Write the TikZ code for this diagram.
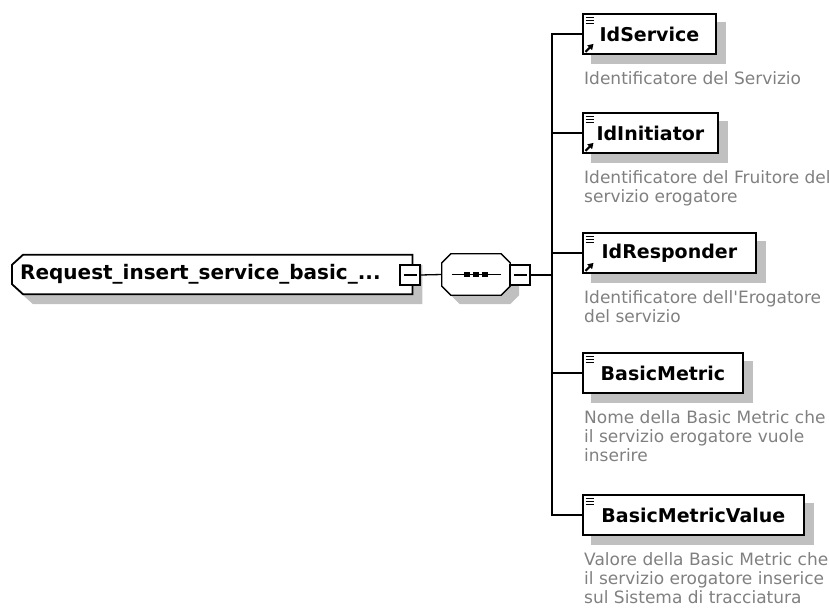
\documentclass[tikz,border=0pt]{standalone}
\usepackage{fontspec}
\setmainfont{DejaVu Sans}
\usetikzlibrary{arrows.meta,calc}
\pgfdeclarelayer{bg}
\pgfsetlayers{bg,main}
\definecolor{shad}{RGB}{192,192,192}
\definecolor{desc}{RGB}{128,128,128}
\newcommand\rootoutline[2]{($(root.north west)+(11+#1,#2)$) -- ($(root.north east)+(#1,#2)$) -- ($(root.south east)+(#1,#2)$) -- ($(root.south west)+(11+#1,#2)$) -- ($(root.south west)+(#1,-10+#2)$) -- ($(root.north west)+(#1,10+#2)$) -- cycle}
\newcommand\seqoutline[2]{($(seq.north west)+(9+#1,#2)$) -- ($(seq.north east)+(-9+#1,#2)$) -- ($(seq.north east)+(#1,9+#2)$) -- ($(seq.south east)+(#1,-9+#2)$) -- ($(seq.south east)+(-9+#1,#2)$) -- ($(seq.south west)+(9+#1,#2)$) -- ($(seq.south west)+(#1,-9+#2)$) -- ($(seq.north west)+(#1,9+#2)$) -- cycle}
\begin{document}
\begin{tikzpicture}[x=1pt,y=-1pt,
  elem/.style={draw=black, line width=1.8, fill=white, minimum height=40, inner sep=0, anchor=west, font=\fontsize{19}{19}\selectfont\bfseries},
  rootn/.style={inner xsep=8, inner ysep=0, minimum height=39, text width=384, align=left, anchor=west, font=\fontsize{20}{20}\selectfont\bfseries},
  minus/.style={draw=black, line width=1.3, fill=white, minimum size=20, inner sep=0},
  descr/.style={anchor=north west, inner sep=0, align=left, text=desc, font=\fontsize{17}{19}\selectfont},
  conn/.style={line width=1.3},
  icon/.style={line width=1.6}]
\useasboundingbox (0,0) rectangle (829,609);

% root and sequence
\node[rootn] (root) at (12,274.5) {Request\_insert\_service\_basic\_...};
\node[minimum width=68, minimum height=41, inner sep=0] (seq) at (476,274.5) {};
\node[minus] (rm) at (410,275) {};
\node[minus] (sm) at (520,275) {};

% children
\node[elem, minimum width=133] (c1) at (582,34) {IdService};
\node[elem, minimum width=135] (c2) at (582,133) {IdInitiator};
\node[elem, minimum width=173] (c3) at (582,253) {IdResponder};
\node[elem, minimum width=160] (c4) at (582,373) {BasicMetric};
\node[elem, minimum width=221] (c5) at (582,515) {BasicMetricValue};

% descriptions
\node[descr] (d1) at ($(c1.south west)+(2,16)$) {Identificatore del Servizio};
\node[descr] (d2) at ($(c2.south west)+(2,16)$) {Identificatore del Fruitore del\\servizio erogatore};
\node[descr] (d3) at ($(c3.south west)+(2,16)$) {Identificatore dell\textquotesingle Erogatore\\del servizio};
\node[descr] (d4) at ($(c4.south west)+(2,16)$) {Nome della Basic Metric che\\il servizio erogatore vuole\\inserire};
\node[descr] (d5) at ($(c5.south west)+(2,16)$) {Valore della Basic Metric che\\il servizio erogatore inserice\\sul Sistema di tracciatura};

\begin{pgfonlayer}{bg}
  \fill[shad] \rootoutline{10}{10};
  \fill[shad] \seqoutline{9}{9};
  \foreach \c in {c1,c2,c3,c4,c5}
    \fill[shad] ($(\c.north west)+(9,9)$) rectangle ($(\c.south east)+(9,9)$);
  \filldraw[fill=white, draw=black, line width=1.8] \rootoutline{0}{0};
  \filldraw[fill=white, draw=black, line width=1.3] \seqoutline{0}{0};
\end{pgfonlayer}

% sequence symbol
\draw[line width=1.3] ($(seq.west)+(10,0)$) -- ($(seq.east)+(-9,0)$);
\foreach \dx in {-9,0,9}
  \fill ($(seq.center)+(\dx-3,-2.8)$) rectangle ++(6,5.6);

% minus signs
\draw[line width=1.4] ($(rm.center)+(-6.5,0)$) -- ($(rm.center)+(6.5,0)$);
\draw[line width=1.4] ($(sm.center)+(-6.5,0)$) -- ($(sm.center)+(6.5,0)$);

% connectors
\coordinate (bus) at (552,275);
\draw[conn] (rm.east) -- (seq.west);
\draw[conn] (sm.east) -- (bus);
\draw[conn] (c1.west) -- (c1.west -| bus) -- (c5.west -| bus) -- (c5.west);
\foreach \c in {c2,c3,c4}
  \draw[conn] (\c.west) -- (\c.west -| bus);

% icons
\foreach \c in {c1,c2,c3,c4,c5}
  \foreach \dy in {4.5,7.5,10.5}
    \draw[icon] ($(\c.north west)+(3.5,\dy)$) -- ++(8,0);
\foreach \c in {c1,c2,c3}
  \draw[line width=2,-{Triangle[length=5.5,width=6.5]}] ($(\c.south west)+(3.5,-3)$) -- ++(8,-8);
\end{tikzpicture}
\end{document}
